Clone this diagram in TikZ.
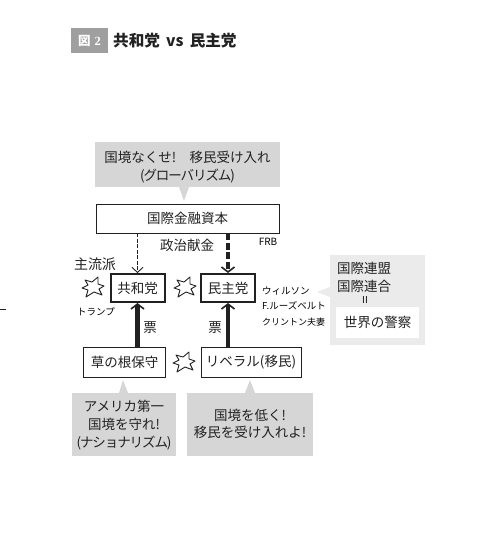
\documentclass[tikz,border=0pt]{standalone}
\usepackage{fontspec}
\setmainfont{Noto Sans CJK JP}
\newfontfamily\numfont{Liberation Serif}
\usepackage{xcolor}
\usetikzlibrary{arrows.meta, calc}
\definecolor{calloutgray}{gray}{0.84}
\definecolor{paleagray}{gray}{0.92}
\definecolor{inkblack}{gray}{0.13}
\newcommand{\tightkana}[1]{{\addfontfeature{LetterSpace=-8}#1}}

\begin{document}
\begin{tikzpicture}[x=1pt, y=-1pt, every node/.style={font=\fontsize{13.5}{16}\selectfont, text=inkblack, inner sep=0pt},
  partybox/.style={draw=inkblack, line width=2pt, fill=white, minimum width=54pt, minimum height=28pt},
  plainbox/.style={draw=inkblack, line width=0.8pt, fill=white, minimum height=30pt},
  callout/.style={fill=calloutgray},
  smalltext/.style={font=\fontsize{9.5}{11}\selectfont, text=black},
  burst/.style={draw=inkblack, line width=0.9pt, fill=white, line join=round},
  votearrow/.style={-{Straight Barb[length=5pt,width=13pt,line width=1.6pt]}, line width=4.5pt, inkblack}]
\useasboundingbox (0,0) rectangle (485,536);
% Title
\fill[gray!75] (71,28) rectangle (108,53);
\node[font=\fontsize{12.5}{15}\selectfont\bfseries, text=white] (figno) at (89.5,40.5) {図\,\,{\numfont\bfseries 2}};
\node[anchor=west, font=\fontsize{15.6}{18}\selectfont\bfseries] (heading) at (113,40.5) {共和党 \,vs\, 民主党};
% Page tick
\coordinate (TickA) at (0,309);
\coordinate (TickB) at (6,309);
\draw[line width=0.6pt, inkblack] (TickA) -- (TickB);
% Gray callouts with pointers
\fill[callout] (95,142) rectangle (280,187);
\fill[callout] (179,187) -- (184,201) -- (189,187) -- cycle;
\fill[callout] (72,393) rectangle (176,456);
\fill[callout] (119,393) -- (123,380) -- (128,393) -- cycle;
\fill[callout] (187,393) rectangle (313,456);
\fill[callout] (245,393) -- (250,380) -- (255,393) -- cycle;
\fill[paleagray] (330,255) rectangle (425,345);
\fill[paleagray] (330,287) -- (317,292) -- (330,297) -- cycle;
\node[align=center] (slogantop) at (187.5,167) {国境なくせ!　移民受け入れ\\[2pt]\tightkana{(グローバリズム)}};
\node[align=center] (sloganleft) at (124,425) {アメリカ第一\\[2pt]国境を守れ!\\[2pt]\tightkana{(ナショナリズム)}};
\node[align=center] (sloganright) at (250,423.5) {国境を低く!\\[1pt]移民を受け入れよ!};
% Boxes
\node[plainbox, minimum width=183pt, minimum height=29pt] (capital) at (187.5,218.5) {国際金融資本};
\node[partybox] (rep) at (137.5,288) {共和党};
\node[partybox] (dem) at (228,288) {民主党};
\node[plainbox, minimum width=82pt] (grass) at (124,362) {\hspace{1pt}草の根保守};
\node[plainbox, minimum width=100pt] (liberal) at (251,362) {リベラル(移民)};
% Arrows
\draw[-{Straight Barb[length=5pt,width=11pt,line width=0.9pt]}, dash pattern=on 4pt off 1.5pt, line width=0.7pt, inkblack] (capital.south -| rep.north) -- (rep.north);
\draw[-{Straight Barb[length=5pt,width=13pt,line width=1.6pt]}, dash pattern=on 7pt off 2.5pt, line width=4pt, inkblack] (capital.south -| dem.north) -- (dem.north);
\draw[votearrow] (grass.north -| rep.south) -- (rep.south);
\draw[votearrow] (liberal.north -| dem.south) -- (dem.south);
% Bursts between rivals
\foreach \name/\x/\y in {burstA/93/287, burstB/185/287, burstC/184/362} {
  \draw[burst, shift={(\x,\y)}] (-8,-7) -- (-1,-5) -- (5,-10) -- (5,-3) -- (11,-1) -- (6,2) -- (9,8) -- (1,5) -- (-7,10) -- (-5,3) -- (-11,1) -- (-5,-2) -- cycle;
  \coordinate (\name) at (\x,\y);
}
% Labels
\node[font=\fontsize{14}{16}\selectfont] (mainstream) at (95,264) {主流派};
\node (money) at (187,245) {政治献金};
\node (voteA) at (150,328) {票};
\node (voteB) at (215,328) {票};
\node[smalltext, font=\fontsize{10}{12}\selectfont] (frb) at (268,242) {FRB};
\node[smalltext] (trump) at (96,312) {トランプ};
\node[smalltext, anchor=west] (wilson) at (262,291) {ウィルソン};
\node[smalltext, anchor=west] (roosevelt) at (262,306) {F.ルーズベルト};
\node[smalltext, anchor=west, font=\fontsize{9}{11}\selectfont] (clinton) at (262,322) {クリントン夫妻};
% United nations panel
\node[anchor=west] (league) at (337,268.5) {国際連盟};
\node[anchor=west] (un) at (337,286) {国際連合};
\node[smalltext] (equal) at (365,300) {II};
\node[fill=white, minimum width=83pt, minimum height=31pt] (police) at (377.5,322.5) {世界の警察};
\end{tikzpicture}
\end{document}
